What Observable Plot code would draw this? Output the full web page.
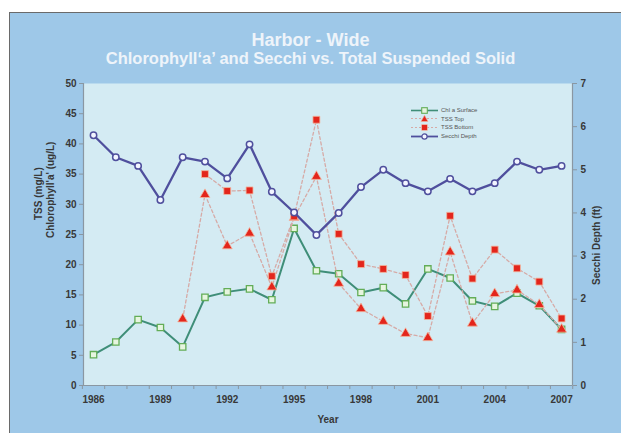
<!DOCTYPE html>
<html><head><meta charset="utf-8">
<script src="https://cdn.jsdelivr.net/npm/d3@7"></script>
<script src="https://cdn.jsdelivr.net/npm/@observablehq/plot@0.6"></script>
<style>
body{margin:0;background:#fff;font-family:"Liberation Sans",Arial,sans-serif;}
#wrap{position:relative;width:621px;height:433px;overflow:hidden;background:#fff;}
#bg{position:absolute;left:9px;top:12px;right:0;bottom:0;background:#9ec8e8;border-left:1px solid #6a6a6a;border-top:1px solid #6a6a6a;}
.t{position:absolute;left:0;width:621px;text-align:center;color:#eef4fa;font-weight:bold;white-space:nowrap;}
#chart{position:absolute;left:0;top:0;}
.yl{position:absolute;font-size:10px;font-weight:bold;color:#383838;white-space:nowrap;transform-origin:0 0;}
#legend{position:absolute;left:410px;top:106px;font-size:6px;color:#555;line-height:8.6px;}
#legend div{display:flex;align-items:center;height:8.6px;}
#legend svg{margin-right:2px;}
</style></head><body>
<div id="wrap"><div id="bg"></div>
<div class="t" style="top:30px;font-size:18px">Harbor - Wide</div>
<div class="t" style="top:49px;font-size:16.5px">Chlorophyll‘a’ and Secchi vs. Total Suspended Solid</div>
<div id="chart"></div>
<div class="yl" id="yl1" style="left:33px;top:220px;transform:rotate(-90deg)">TSS (mg/L)</div>
<div class="yl" id="yl2" style="left:45px;top:238px;transform:rotate(-90deg)">Chlorophyll'a' (ug/L)</div>
<div class="yl" id="yl3" style="left:591px;top:285px;transform:rotate(-90deg)">Secchi Depth (ft)</div>
<div id="legend"></div>
</div>
<script>
const years = [1986,1987,1988,1989,1990,1991,1992,1993,1994,1995,1996,1997,1998,1999,2000,2001,2002,2003,2004,2005,2006,2007];
const chlSurface = [5.1,7.2,10.9,9.6,6.4,14.6,15.5,16.0,14.2,26.0,19.0,18.5,15.4,16.2,13.5,19.3,17.8,14.0,13.1,15.3,13.2,9.3];
const tssTop = [null,null,null,null,11.0,31.6,23.1,25.2,16.3,27.8,34.6,16.9,12.7,10.6,8.6,7.9,22.1,10.3,15.2,15.8,13.4,9.3];
const tssBottom = [null,null,null,null,null,35.0,32.2,32.3,18.1,28.0,44.0,25.1,20.1,19.3,18.3,11.5,28.1,17.7,22.5,19.4,17.2,11.1];
const secchiDepth = [5.80,5.29,5.09,4.30,5.29,5.19,4.80,5.59,4.49,4.01,3.49,4.00,4.60,5.00,4.69,4.50,4.79,4.50,4.69,5.19,5.00,5.09];
const xTickLabels = [1986,1989,1992,1995,1998,2001,2004,2007];
const leftTicks = [0,5,10,15,20,25,30,35,40,45,50];
const rightTicks = [0,1,2,3,4,5,6,7];
const xDomain = [1985.55, 2007.49];
const leftMax = 50, rightMax = 7;
const ratio = leftMax / rightMax;

const rows = (vals) => years.map((year, i) => ({year, v: vals[i]})).filter(d => d.v != null);
const chlData = rows(chlSurface);
const topData = rows(tssTop);
const botData = rows(tssBottom);
const secData = rows(secchiDepth).map(d => ({year: d.year, v: d.v * ratio}));
const boundaries = years.map(y => y - 0.5).concat([years[years.length-1] + 0.5]);

const C = {
  chlLine: "#3f8e78", chlStroke: "#63ad57", chlFill: "#e6f5df",
  dash: "#d6aaa6", red: "#e3261c", redEdge: "#f3b7a0",
  sec: "#4f4f9d", secFill: "#f2f5ff", axis: "#8a97a2"
};

const chart = Plot.plot({
  width: 621, height: 433,
  marginLeft: 83, marginRight: 49, marginTop: 83, marginBottom: 48,
  style: {background: "transparent", fontFamily: "'Liberation Sans', Arial, sans-serif", fontSize: "10px", fontWeight: "bold", color: "#333"},
  x: {domain: xDomain},
  y: {domain: [0, leftMax]},
  marks: [
    Plot.frame({fill: "#d4ebf3", stroke: null}),
    Plot.ruleX(xDomain, {stroke: C.axis, strokeWidth: 1.2}),
    Plot.ruleY([0], {stroke: C.axis, strokeWidth: 1.2}),
    Plot.axisX(boundaries, {tickSize: 4, tickFormat: () => "", stroke: C.axis, label: null}),
    Plot.axisX(xTickLabels, {tickSize: 0, tickPadding: 10, tickFormat: d => String(d), fill: "#383838", label: "Year", labelAnchor: "center", labelArrow: "none", labelOffset: 37}),
    Plot.axisY(leftTicks, {anchor: "left", tickSize: 4, tickPadding: 3, stroke: C.axis, fill: "#383838", label: null}),
    Plot.axisY(rightTicks.map(d => d * ratio), {anchor: "right", tickSize: 4, tickPadding: 4, stroke: C.axis, fill: "#383838", tickFormat: d => String(Math.round(d / ratio)), label: null}),
    Plot.line(chlData, {x: "year", y: "v", stroke: C.chlLine, strokeWidth: 2}),
    Plot.dot(chlData, {x: "year", y: "v", symbol: "square", r: 3.6, stroke: C.chlStroke, fill: C.chlFill, strokeWidth: 1.3}),
    Plot.line(topData, {x: "year", y: "v", stroke: C.dash, strokeWidth: 1.3, strokeDasharray: "3,2.5"}),
    Plot.dot(topData, {x: "year", y: "v", symbol: "triangle", r: 3.7, fill: C.red, stroke: C.redEdge, strokeWidth: 0.8}),
    Plot.line(botData, {x: "year", y: "v", stroke: C.dash, strokeWidth: 1.3, strokeDasharray: "3,2.5"}),
    Plot.dot(botData, {x: "year", y: "v", symbol: "square", r: 3.9, fill: C.red, stroke: C.redEdge, strokeWidth: 0.8}),
    Plot.line(secData, {x: "year", y: "v", stroke: C.sec, strokeWidth: 2.3}),
    Plot.dot(secData, {x: "year", y: "v", r: 3.2, stroke: C.sec, fill: C.secFill, strokeWidth: 1.5})
  ]
});
document.getElementById("chart").appendChild(chart);

// legend
const legendItems = [
  {label: "Chl a Surface", line: C.chlLine, dash: null, sym: "sq", mfill: C.chlFill, mstroke: C.chlStroke, w: 1.6},
  {label: "TSS Top", line: C.dash, dash: "2,2", sym: "tri", mfill: C.red, mstroke: C.redEdge, w: 1},
  {label: "TSS Bottom", line: C.dash, dash: "2,2", sym: "sqf", mfill: C.red, mstroke: C.redEdge, w: 1},
  {label: "Secchi Depth", line: C.sec, dash: null, sym: "circ", mfill: C.secFill, mstroke: C.sec, w: 1.8}
];
const leg = d3.select("#legend");
legendItems.forEach(it => {
  const row = leg.append("div");
  const s = row.append("svg").attr("width", 29).attr("height", 9);
  s.append("line").attr("x1", 1).attr("x2", 28).attr("y1", 4.5).attr("y2", 4.5)
    .attr("stroke", it.line).attr("stroke-width", it.w).attr("stroke-dasharray", it.dash);
  if (it.sym === "circ") s.append("circle").attr("cx", 14.5).attr("cy", 4.5).attr("r", 2.6).attr("fill", it.mfill).attr("stroke", it.mstroke).attr("stroke-width", 1.2);
  else if (it.sym === "tri") s.append("path").attr("d", "M14.5,1.3L18,7.5L11,7.5Z").attr("fill", it.mfill).attr("stroke", it.mstroke).attr("stroke-width", 0.6);
  else s.append("rect").attr("x", 11.7).attr("y", 1.7).attr("width", 5.6).attr("height", 5.6).attr("fill", it.mfill).attr("stroke", it.mstroke).attr("stroke-width", it.sym === "sq" ? 1.1 : 0.6);
  row.append("span").text(it.label);
});
</script>
</body></html>
